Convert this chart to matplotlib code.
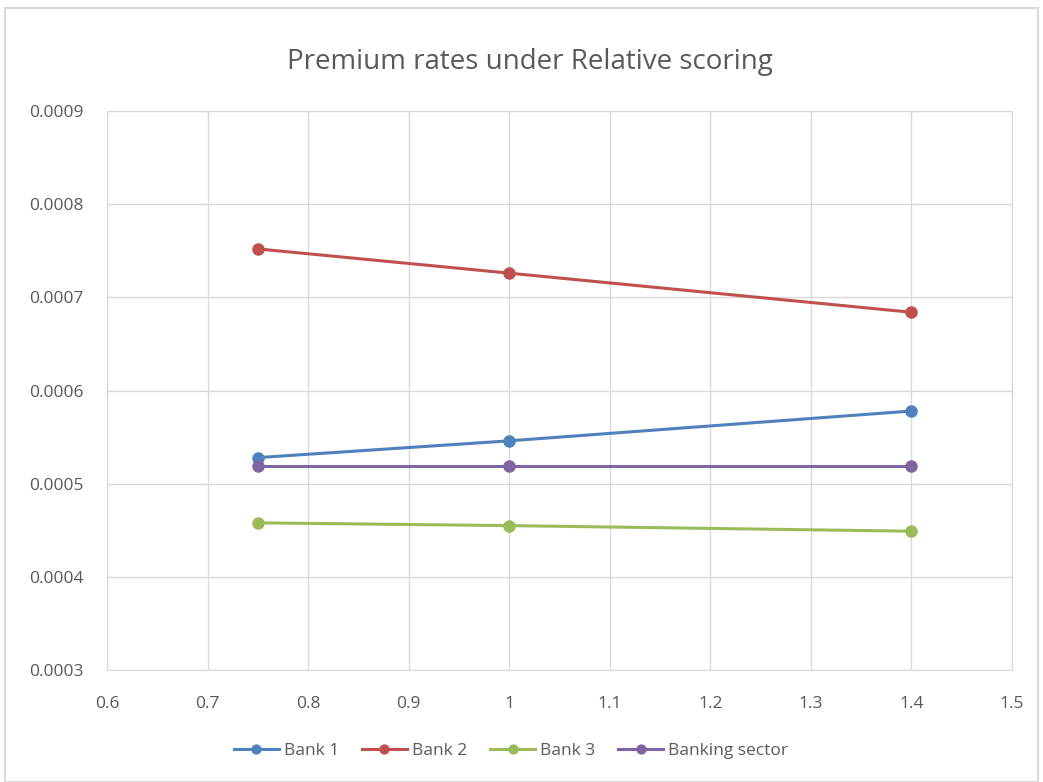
import numpy as np
import matplotlib.pyplot as plt

plt.rcParams['font.family'] = ['Open Sans', 'DejaVu Sans']

x = [0.75, 1.0, 1.4]
bank1 = [0.000528, 0.000546, 0.000578]
bank2 = [0.000752, 0.000726, 0.000684]
bank3 = [0.000458, 0.000455, 0.000449]
sector = [0.000519, 0.000519, 0.000519]

labels = ['Bank 1', 'Bank 2', 'Bank 3', 'Banking sector']
colors = ['#4F81BD', '#C0504D', '#9BBB59', '#8064A2']

xticks = [0.6, 0.7, 0.8, 0.9, 1.0, 1.1, 1.2, 1.3, 1.4, 1.5]
xticklabels = ['0.6', '0.7', '0.8', '0.9', '1', '1.1', '1.2', '1.3', '1.4', '1.5']
yticks = [0.0003, 0.0004, 0.0005, 0.0006, 0.0007, 0.0008, 0.0009]

fig = plt.figure(figsize=(10.43, 7.82), dpi=100)
ax = fig.add_axes([0.1026, 0.1432, 0.8677, 0.7148])

for ys, lab, c in zip([bank1, bank2, bank3, sector], labels, colors):
    ax.plot(x, ys, color=c, lw=2.2, marker='o', ms=8, label=lab)

ax.set_xlim(0.6, 1.5)
ax.set_ylim(0.0003, 0.0009)
ax.set_xticks(xticks)
ax.set_xticklabels(xticklabels)
ax.set_yticks(yticks)
ax.set_yticklabels(['%.4f' % v for v in yticks])
ax.grid(True, color='#d9d9d9', lw=1)
ax.set_axisbelow(True)
for s in ax.spines.values():
    s.set_color('#d9d9d9')
ax.tick_params(length=0, colors='#595959', labelsize=12.5)
ax.tick_params(axis='y', pad=17)
ax.tick_params(axis='x', pad=19)

fig.text(0.508, 0.921, 'Premium rates under Relative scoring', ha='center', va='center',
         fontsize=20, color='#595959')

fig.legend(loc='center', bbox_to_anchor=(0.49, 0.04), ncol=4, frameon=False,
           fontsize=12.5, labelcolor='#595959', handlelength=2.6, handletextpad=0.3,
           columnspacing=1.3, markerscale=0.8)

fig.patches.append(plt.Rectangle((0.005, 0.0), 0.99, 0.99, transform=fig.transFigure,
                                 fill=False, edgecolor='#d9d9d9', lw=1.5))

fig.savefig('out.png', dpi=100)
